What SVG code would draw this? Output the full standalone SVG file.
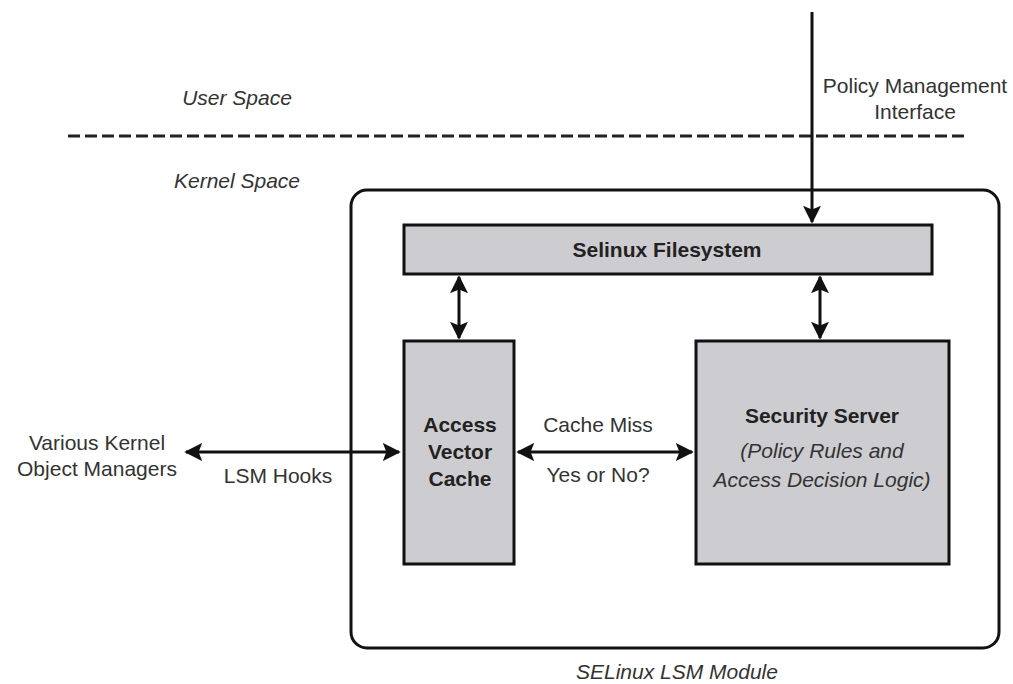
<svg xmlns="http://www.w3.org/2000/svg" width="1013" height="684" viewBox="0 0 1013 684">
<style>
text{font-family:"Liberation Sans",Arial,sans-serif;font-size:21px;fill:#333;text-anchor:middle}
.i{font-style:italic}
.b{font-weight:bold;fill:#222}
.box{fill:#cdccd0;stroke:#111;stroke-width:3}
.ln{stroke:#111;stroke-width:3;fill:none}
</style>
<defs>
<marker id="ah" viewBox="0 0 10 10" refX="9" refY="5" markerWidth="6" markerHeight="6" orient="auto-start-reverse" markerUnits="strokeWidth">
<path d="M0,0 L10,5 L0,10 L2,5 Z" fill="#111"/>
</marker>
</defs>
<rect width="1013" height="684" fill="#fff"/>
<text class="i" x="237" y="105">User Space</text>
<text class="i" x="237" y="188">Kernel Space</text>
<line x1="68" y1="136" x2="968" y2="136" stroke="#222" stroke-width="3" stroke-dasharray="12,5"/>
<text x="915" y="93">Policy Management</text>
<text x="915" y="119">Interface</text>
<g id="module">
<rect x="351" y="190" width="648" height="458" rx="16" class="ln"/>
<text class="i" x="677" y="679">SELinux LSM Module</text>
</g>
<g id="filesystem">
<rect x="404" y="225" width="528" height="49" class="box"/>
<text class="b" x="667" y="257">Selinux Filesystem</text>
</g>
<g id="avc">
<rect x="404" y="341" width="110" height="223" class="box"/>
<text class="b" x="460" y="432">Access</text>
<text class="b" x="460" y="459">Vector</text>
<text class="b" x="460" y="486">Cache</text>
</g>
<g id="server">
<rect x="696" y="341" width="253" height="223" class="box"/>
<text class="b" x="822" y="423">Security Server</text>
<text class="i" x="822" y="458">(Policy Rules and</text>
<text class="i" x="822" y="487">Access Decision Logic)</text>
</g>
<g id="managers">
<text x="97" y="450">Various Kernel</text>
<text x="97" y="476">Object Managers</text>
</g>
<g id="connectors">
<line x1="812" y1="12" x2="812" y2="222" class="ln" marker-end="url(#ah)"/>
<line x1="459" y1="277" x2="459" y2="338" class="ln" marker-start="url(#ah)" marker-end="url(#ah)"/>
<line x1="820" y1="277" x2="820" y2="338" class="ln" marker-start="url(#ah)" marker-end="url(#ah)"/>
<line x1="186" y1="452" x2="399" y2="452" class="ln" marker-start="url(#ah)" marker-end="url(#ah)"/>
<line x1="518" y1="452" x2="692" y2="452" class="ln" marker-start="url(#ah)" marker-end="url(#ah)"/>
<text x="278" y="483">LSM Hooks</text>
<text x="598" y="432">Cache Miss</text>
<text x="598" y="482">Yes or No?</text>
</g>
</svg>
